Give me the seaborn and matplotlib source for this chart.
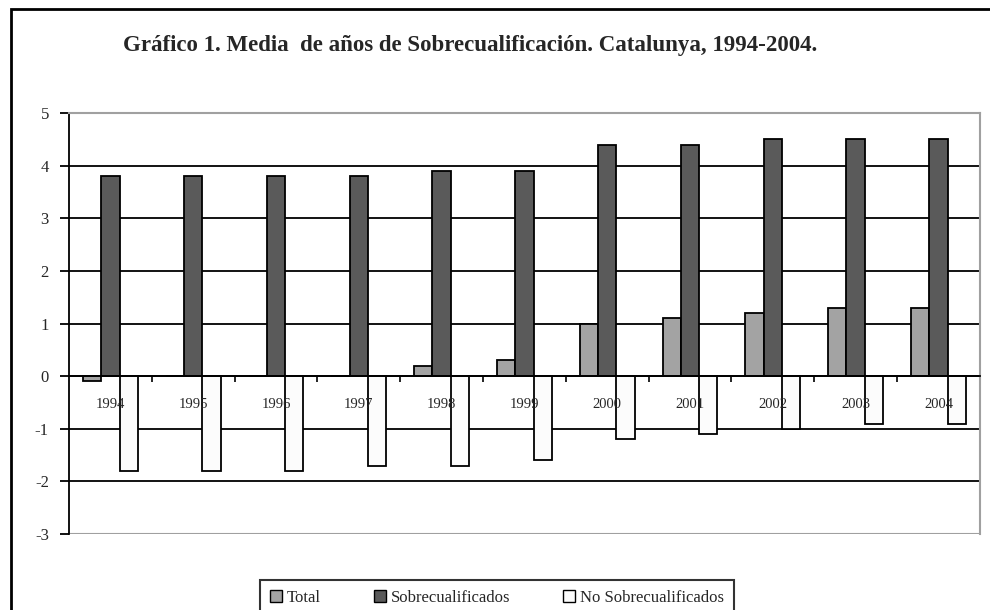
import numpy as np
import pandas as pd
import matplotlib
matplotlib.use("Agg")
import matplotlib.pyplot as plt
from matplotlib.patches import Rectangle
import seaborn as sns

# Data
years = ["1994", "1995", "1996", "1997", "1998", "1999",
         "2000", "2001", "2002", "2003", "2004"]
total = [-0.1, 0.0, 0.0, 0.0, 0.2, 0.3, 1.0, 1.1, 1.2, 1.3, 1.3]
sobre = [3.8, 3.8, 3.8, 3.8, 3.9, 3.9, 4.4, 4.4, 4.5, 4.5, 4.5]
no_sobre = [-1.8, -1.8, -1.8, -1.7, -1.7, -1.6, -1.2, -1.1, -1.0, -0.9, -0.9]
series = ["Total", "Sobrecualificados", "No Sobrecualificados"]
colors = ["#a3a3a3", "#5a5a5a", "#fcfcfc"]

df = pd.DataFrame({
    "year": years * 3,
    "serie": np.repeat(series, len(years)),
    "valor": total + sobre + no_sobre,
})

sns.set_style("white")
plt.rcParams["font.family"] = ["Liberation Serif", "DejaVu Serif"]
plt.rcParams["axes.unicode_minus"] = False

fig = plt.figure(figsize=(9.9, 6.1), dpi=100)
ax = fig.add_axes([0.0697, 0.1246, 0.920, 0.690])

sns.barplot(data=df, x="year", y="valor", hue="serie", hue_order=series,
            palette=colors, width=0.66, gap=0, edgecolor="black",
            linewidth=1.3, saturation=1, legend=False, zorder=2, ax=ax)

ax.set_ylim(-3, 5)
ax.set_xlim(-0.5, len(years) - 0.5)
ax.set_yticks(range(-3, 6))
ax.hlines(range(-2, 5), -0.5, len(years) - 0.5, color="black",
          linewidth=1.3, zorder=1)

# frame
for side in ["top", "right"]:
    ax.spines[side].set_color("#a0a0a0")
    ax.spines[side].set_linewidth(1.5)
ax.spines["left"].set_color("black")
ax.spines["left"].set_linewidth(1.3)
ax.spines["bottom"].set_position(("data", 0))
ax.spines["bottom"].set_color("black")
ax.spines["bottom"].set_linewidth(1.3)
ax.axhline(-3, color="#a0a0a0", linewidth=1.5, zorder=2)

ax.set_xlabel("")
ax.set_ylabel("")
ax.tick_params(axis="y", direction="out", length=6.5, width=1.3,
               color="black", pad=8, labelsize=12, left=True)
ax.tick_params(axis="x", which="major", length=0, pad=16, labelsize=10.5)
ax.set_xticks(np.arange(0.5, len(years) - 1, 1), minor=True)
ax.tick_params(axis="x", which="minor", direction="out", length=4.5,
               width=1.2, color="black", bottom=True)
# year labels sit on top of the bars, as in the original
ax.xaxis.set_zorder(3)

fig.text(0.475, 0.926, "Gráfico 1. Media  de años de Sobrecualificación. Catalunya, 1994-2004.",
         ha="center", va="center", fontsize=16.5, fontweight="bold")

handles = [Rectangle((0, 0), 1, 1, facecolor=c, edgecolor="black", linewidth=1)
           for c in colors]
leg = fig.legend(handles, series, loc="upper center",
                 bbox_to_anchor=(0.502, 0.063), ncol=3, frameon=True,
                 fancybox=False, edgecolor="black", fontsize=12,
                 handlelength=0.7, handleheight=0.7, handletextpad=0.3,
                 columnspacing=3.2, borderpad=0.6)
leg.get_frame().set_linewidth(1.5)

# outer chart border
fig.patches.append(Rectangle((0.011, -0.02), 1.0, 1.005,
                             transform=fig.transFigure, fill=False,
                             edgecolor="black", linewidth=2, zorder=0))

fig.savefig("out.png", dpi=100)
